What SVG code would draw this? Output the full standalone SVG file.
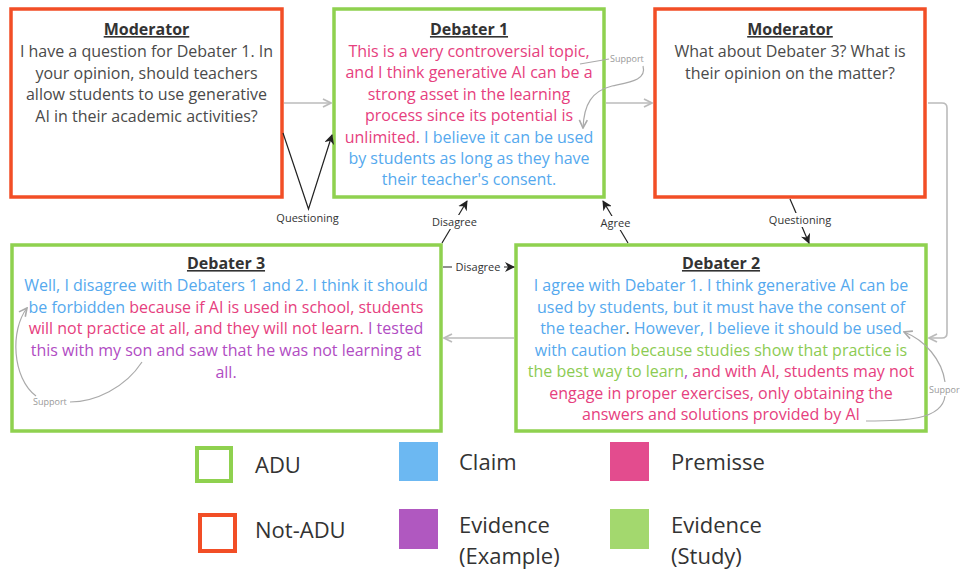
<svg xmlns="http://www.w3.org/2000/svg" width="960" height="577" viewBox="0 0 960 577">
<defs>
<style>
.t{font-family:"Open Sans","Liberation Sans",sans-serif;font-size:16px;text-anchor:middle}
.h{font-family:"Open Sans","Liberation Sans",sans-serif;font-size:16px;font-weight:bold;text-decoration:underline;fill:#333;text-anchor:middle}
.g{fill:#4a4a4a}.b{fill:#55a9ee}.p{fill:#e6407e}.v{fill:#b14cc3}.e{fill:#8ccb52}.k{fill:#444}
.adu{fill:#fff;stroke:#8fd14f;stroke-width:3.5}
.nadu{fill:#fff;stroke:#f24e26;stroke-width:3.5}
.lbl{font-family:"Open Sans","Liberation Sans",sans-serif;font-size:11px;fill:#333;text-anchor:middle}
.sup{font-family:"Open Sans","Liberation Sans",sans-serif;font-size:9px;fill:#999}
.lg{font-family:"Open Sans","Liberation Sans",sans-serif;font-size:22px;fill:#333}
.cg{fill:none;stroke:#bbb;stroke-width:1.6}
.cs{fill:none;stroke:#aaa;stroke-width:1.2}
.ck{fill:none;stroke:#222;stroke-width:1.2}
</style>
<marker id="ag" viewBox="0 0 10 10" refX="9" refY="5" markerWidth="10" markerHeight="10" markerUnits="userSpaceOnUse" orient="auto"><path d="M1,1 L9,5 L1,9" fill="none" stroke="#bbb" stroke-width="1.8"/></marker>
<marker id="as" viewBox="0 0 10 10" refX="9" refY="5" markerWidth="10" markerHeight="10" markerUnits="userSpaceOnUse" orient="auto"><path d="M1,1 L9,5 L1,9" fill="none" stroke="#aaa" stroke-width="1.6"/></marker>
<marker id="ak" viewBox="0 0 10 10" refX="9" refY="5" markerWidth="10" markerHeight="10" markerUnits="userSpaceOnUse" orient="auto"><path d="M0,0 L10,5 L0,10 L3,5 z" fill="#222"/></marker>
</defs>
<rect width="960" height="577" fill="#fff"/>

<g id="moderator1">
<rect class="nadu" x="11" y="9" width="271" height="188"/>
<text class="h" x="146.5" y="35">Moderator</text>
<text class="t g" x="146.5" y="57">I have a question for Debater 1. In</text>
<text class="t g" x="146.5" y="78.7">your opinion, should teachers</text>
<text class="t g" x="146.5" y="100.4">allow students to use generative</text>
<text class="t g" x="146.5" y="122">AI in their academic activities?</text>
</g>

<g id="debater1">
<rect class="adu" x="334" y="9" width="270" height="188"/>
<text class="h" x="469" y="35">Debater 1</text>
<text class="t p" x="469" y="57">This is a very controversial topic,</text>
<text class="t p" x="469" y="78.4">and I think generative AI can be a</text>
<text class="t p" x="469" y="99.8">strong asset in the learning</text>
<text class="t p" x="469" y="121.2">process since its potential is</text>
<text class="t" x="469" y="142.6"><tspan class="p">unlimited.</tspan><tspan class="b"> I believe it can be used</tspan></text>
<text class="t b" x="469" y="164">by students as long as they have</text>
<text class="t b" x="469" y="185.4">their teacher's consent.</text>
</g>

<g id="moderator2">
<rect class="nadu" x="655" y="9" width="270" height="188"/>
<text class="h" x="790" y="35">Moderator</text>
<text class="t g" x="790" y="57">What about Debater 3? What is</text>
<text class="t g" x="790" y="78.7">their opinion on the matter?</text>
</g>

<g id="debater3">
<rect class="adu" x="12" y="245" width="429" height="186"/>
<text class="h" x="226" y="269">Debater 3</text>
<text class="t b" x="226" y="291">Well, I disagree with Debaters 1 and 2. I think it should</text>
<text class="t" x="226" y="312.7"><tspan class="b">be forbidden</tspan><tspan class="p"> because if AI is used in school, students</tspan></text>
<text class="t" x="226" y="334.4"><tspan class="p">will not practice at all, and they will not learn.</tspan><tspan class="v"> I tested</tspan></text>
<text class="t v" x="226" y="356.1">this with my son and saw that he was not learning at</text>
<text class="t v" x="226" y="377.8">all.</text>
</g>

<g id="debater2">
<rect class="adu" x="516" y="245" width="410" height="186"/>
<text class="h" x="721" y="269">Debater 2</text>
<text class="t b" x="721" y="291">I agree with Debater 1. I think generative AI can be</text>
<text class="t b" x="721" y="312.5">used by students, but it must have the consent of</text>
<text class="t" x="721" y="334"><tspan class="b">the teacher</tspan><tspan class="k">.</tspan><tspan class="b"> However, I believe it should be used</tspan></text>
<text class="t" x="721" y="355.5"><tspan class="b">with caution</tspan><tspan class="e"> because studies show that practice is</tspan></text>
<text class="t" x="721" y="377"><tspan class="e">the best way to learn</tspan><tspan class="v">,</tspan><tspan class="p"> and with AI, students may not</tspan></text>
<text class="t p" x="721" y="398.5">engage in proper exercises, only obtaining the</text>
<text class="t p" x="721" y="420">answers and solutions provided by AI</text>
</g>

<g id="connectors">
<path class="cg" d="M284 103 H331" marker-end="url(#ag)"/>
<path class="cg" d="M606 103 H652" marker-end="url(#ag)"/>
<path class="cg" d="M928 103 H942 Q947 103 947 108 V333 Q947 338 942 338 H929" marker-end="url(#ag)"/>
<path class="cg" d="M514 338 H444" marker-end="url(#ag)"/>

<path class="ck" d="M283 133 L308.5 209 L332 135" marker-end="url(#ak)"/>
<text class="lbl" x="307.5" y="222">Questioning</text>

<path class="ck" d="M790 199 L809 243" marker-end="url(#ak)"/>
<rect x="768" y="213" width="64" height="14" fill="#fff"/>
<text class="lbl" x="800" y="224">Questioning</text>

<path class="ck" d="M442 243 L467 201" marker-end="url(#ak)"/>
<rect x="430" y="215" width="50" height="14" fill="#fff"/>
<text class="lbl" x="454.5" y="226">Disagree</text>

<path class="ck" d="M628 243 L603 201" marker-end="url(#ak)"/>
<rect x="599" y="216" width="33" height="14" fill="#fff"/>
<text class="lbl" x="615.5" y="227">Agree</text>

<path class="ck" d="M443 267 H514" marker-end="url(#ak)"/>
<rect x="452" y="260" width="52" height="14" fill="#fff"/>
<text class="lbl" x="478" y="271">Disagree</text>

<path class="cs" d="M580 64 L609 59"/>
<text class="sup" x="610" y="62">Support</text>
<path class="cs" d="M643 66 C647 80 630 82 612 86 C592 91 584 104 583 128" marker-end="url(#as)"/>

<path class="cs" d="M142 362 C125 388 95 402 70 402"/>
<text class="sup" x="33" y="405">Support</text>
<path class="cs" d="M36 396 C12 378 10 330 27 308" marker-end="url(#as)"/>

<path class="cs" d="M866 421 C905 421 942 420 945 396"/>
<text class="sup" x="929" y="393">Suppor</text>
<path class="cs" d="M945 382 C942 360 925 340 904 332" marker-end="url(#as)"/>
</g>

<g id="legend">
<rect x="197" y="448" width="34" height="33" fill="#fff" stroke="#8fd14f" stroke-width="4"/>
<text class="lg" x="255" y="473">ADU</text>
<rect x="200" y="515" width="35" height="36" fill="#fff" stroke="#f24e26" stroke-width="4"/>
<text class="lg" x="255" y="538">Not-ADU</text>
<rect x="399" y="442" width="39" height="39" fill="#6cb8f2"/>
<text class="lg" x="459" y="470">Claim</text>
<rect x="399" y="509" width="39" height="40" fill="#b058c0"/>
<text class="lg" x="459" y="533">Evidence</text>
<text class="lg" x="459" y="564">(Example)</text>
<rect x="610" y="442" width="39" height="39" fill="#e34c8e"/>
<text class="lg" x="671" y="470">Premisse</text>
<rect x="610" y="509" width="39" height="40" fill="#a3d86e"/>
<text class="lg" x="671" y="533">Evidence</text>
<text class="lg" x="671" y="564">(Study)</text>
</g>
</svg>
